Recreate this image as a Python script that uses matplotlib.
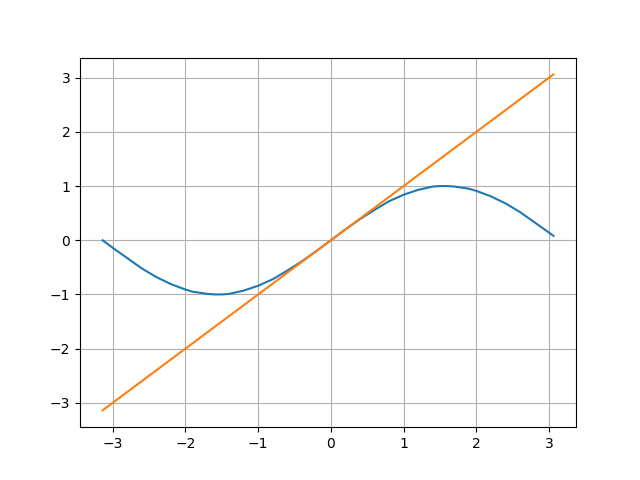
import matplotlib
matplotlib.use("Agg")
import matplotlib.pyplot as plt

# Values
curve_x = [-3.14, -3.0, -2.8, -2.6, -2.4, -2.2, -2.0, -1.9, -1.8, -1.7, -1.6, -1.5,
           -1.4, -1.3, -1.2, -1.0, -0.8, -0.6, -0.4, -0.2, 0.0, 0.2, 0.4, 0.6, 0.8,
           1.0, 1.2, 1.3, 1.4, 1.5, 1.6, 1.7, 1.8, 1.9, 2.0, 2.2, 2.4, 2.6, 2.8, 3.0, 3.06]
curve_y = [0.0, -0.14, -0.33, -0.52, -0.68, -0.81, -0.91, -0.95, -0.97, -0.99, -1.0, -1.0,
           -0.99, -0.96, -0.93, -0.84, -0.72, -0.56, -0.39, -0.2, 0.0, 0.2, 0.39, 0.56, 0.72,
           0.84, 0.93, 0.96, 0.99, 1.0, 1.0, 0.99, 0.97, 0.95, 0.91, 0.81, 0.68, 0.52, 0.33, 0.14, 0.08]

line_x = [-3.14, 0.0, 3.06]
line_y = [-3.14, 0.0, 3.06]

fig, ax = plt.subplots(figsize=(6.4, 4.8), dpi=100)

ax.plot(curve_x, curve_y)
ax.plot(line_x, line_y)
ax.grid(True)

fig.savefig("out.png")
